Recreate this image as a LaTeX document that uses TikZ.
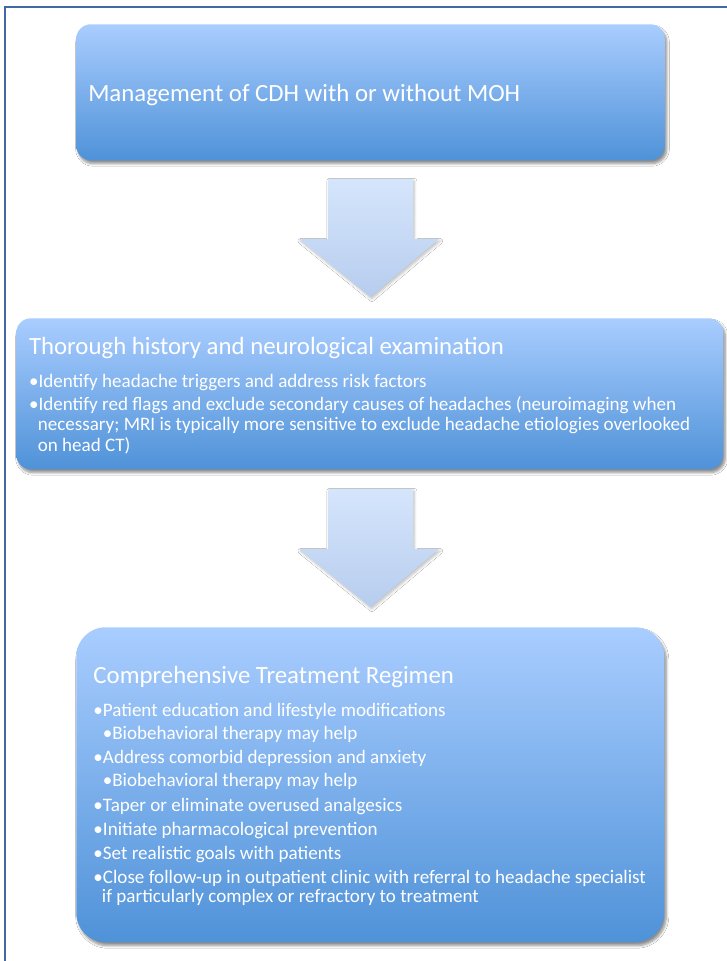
\documentclass[tikz,border=0pt]{standalone}
\usepackage{fontspec}
\setmainfont{Carlito}
\usetikzlibrary{shadows.blur}
\definecolor{boxtop}{HTML}{A9CDFF}
\definecolor{boxbot}{HTML}{4F92D8}
\definecolor{arrtop}{HTML}{D5E5FC}
\definecolor{arrbot}{HTML}{B7CDEE}
\definecolor{framecol}{HTML}{4169A6}
\begin{document}
\begin{tikzpicture}[x=0.75pt,y=-0.75pt,
  box/.style={anchor=north west, inner sep=0, draw=none, top color=boxtop, bottom color=boxbot,
    blur shadow={shadow xshift=1.5pt, shadow yshift=-2.5pt, shadow blur steps=6, shadow opacity=45}},
  blockarrow/.style={top color=arrtop, bottom color=arrbot,
    blur shadow={shadow xshift=1pt, shadow yshift=-1.5pt, shadow blur steps=5, shadow opacity=25}},
  title/.style={anchor=base west, inner sep=0, text=white, font=\fontsize{18.6}{22}\selectfont},
  itemA/.style={anchor=base west, inner sep=0, text=white, font=\fontsize{14.3}{17}\selectfont},
  itemB/.style={anchor=base west, inner sep=0, text=white, font=\fontsize{14.3}{17}\selectfont}]
\useasboundingbox (0,0) rectangle (727,961);
\fill[white] (0,0) rectangle (727,961);
\draw[framecol, line width=1.3pt] (5,961) -- (5,7) -- (727,7);

% boxes
\node[box, minimum width=441.4pt, minimum height=102pt, rounded corners=11pt] (b1) at (76,24) {};
\node[box, minimum width=530.25pt, minimum height=113.25pt, rounded corners=11pt] (b2) at (16,318) {};
\node[box, minimum width=441pt, minimum height=236.25pt, rounded corners=22pt] (b3) at (76,627) {};

% block arrows
\path[blockarrow] (328,179) -- (413,179) -- (413,239) -- (439,239) -- (370.5,297) -- (299,239) -- (328,239) -- cycle;
\path[blockarrow] (328,489) -- (413,489) -- (413,549) -- (439,549) -- (370.5,607) -- (299,549) -- (328,549) -- cycle;

% box 1 text
\node[title] (t1) at (88,101.7) {Management of CDH with or without MOH};

% box 2 text
\node[title] (t2) at (28.8,354) {Thorough history and neurological examination};
\node[itemA] (l21) at (28.8,387) {•Identify headache triggers and address risk factors};
\node[itemA] (l22) at (28.8,410) {•Identify red flags and exclude secondary causes of headaches (neuroimaging when};
\node[itemA] (l23) at (37.6,430.7) {necessary; MRI is typically more sensitive to exclude headache etiologies overlooked};
\node[itemA] (l24) at (37.6,451) {on head CT)};

% box 3 text
\node[title] (t3) at (93.2,683.3) {Comprehensive Treatment Regimen};
\node[itemB] (l31) at (93.2,716) {•Patient education and lifestyle modifications};
\node[itemB] (l32) at (102.5,739) {•Biobehavioral therapy may help};
\node[itemB] (l33) at (93.2,763) {•Address comorbid depression and anxiety};
\node[itemB] (l34) at (102.5,786.7) {•Biobehavioral therapy may help};
\node[itemB] (l35) at (93.2,811.7) {•Taper or eliminate overused analgesics};
\node[itemB] (l36) at (93.2,835) {•Initiate pharmacological prevention};
\node[itemB] (l37) at (93.2,859) {•Set realistic goals with patients};
\node[itemB] (l38) at (93.2,883) {•Close follow-up in outpatient clinic with referral to headache specialist};
\node[itemB] (l39) at (101.7,902.7) {if particularly complex or refractory to treatment};
\end{tikzpicture}
\end{document}
